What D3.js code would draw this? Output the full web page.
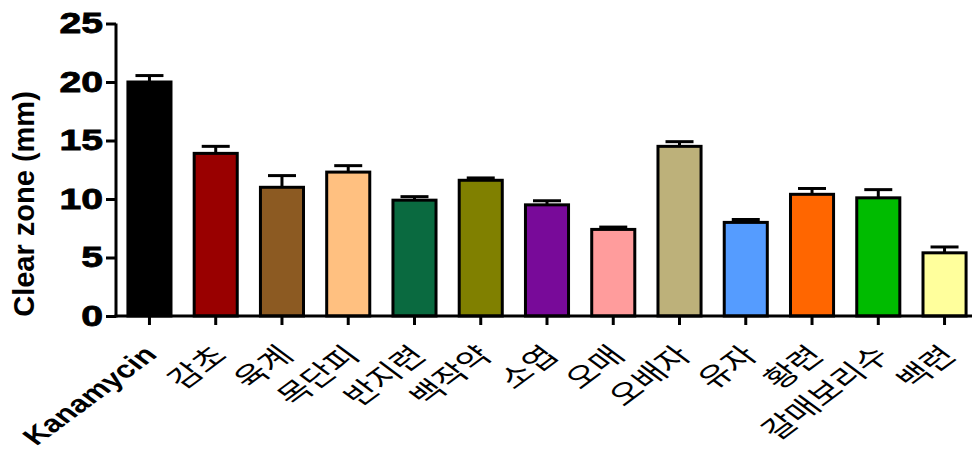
<!DOCTYPE html>
<html>
<head>
<meta charset="utf-8">
<script src="https://cdn.jsdelivr.net/npm/d3@7"></script>
<style>
  html, body { margin: 0; padding: 0; background: #fff; }
  svg { display: block; }
</style>
</head>
<body>
<svg id="chart" width="972" height="459"></svg>
<script>
// Inhibition zone diameters of herbal extracts vs. kanamycin control
const categories = ["Kanamycin", "감초", "육계", "목단피", "반지련", "백작약", "소엽", "오매", "오배자", "유자", "황련", "갈매보리수", "백련"];
const means = [20.0, 13.9, 11.0, 12.3, 9.9, 11.6, 9.5, 7.4, 14.5, 8.0, 10.4, 10.1, 5.4];
const errors = [0.55, 0.6, 1.0, 0.55, 0.3, 0.2, 0.35, 0.2, 0.4, 0.25, 0.5, 0.7, 0.5];
const colors = ["#000000", "#990000", "#8c5a22", "#ffc080", "#0a6a40", "#808000", "#780a99", "#ff9c9c", "#bdb17a", "#559cff", "#ff6600", "#00bb00", "#ffff9c"];
const yTicks = [0, 5, 10, 15, 20, 25];
const yTitle = "Clear zone (mm)";

const svg = d3.select("#chart");
const plotLeft = 116, plotRight = 978, plotTop = 23.5, plotBottom = 316;
const textStretch = 1.35; // horizontally widened lettering

const x = d3.scaleBand().domain(categories).range([plotLeft, plotRight])
  .paddingInner(0.35).paddingOuter(0.18);
const y = d3.scaleLinear().domain([0, 25]).range([plotBottom, plotTop]);

// Bars
svg.append("g").selectAll("rect").data(categories).join("rect")
  .attr("x", d => x(d))
  .attr("y", (d, i) => y(means[i]))
  .attr("width", x.bandwidth())
  .attr("height", (d, i) => y(0) - y(means[i]))
  .attr("fill", (d, i) => colors[i])
  .attr("stroke", "#000")
  .attr("stroke-width", 3);

// Upward error bars with caps
const capW = 28;
const eb = svg.append("g").attr("stroke", "#000").attr("stroke-width", 3);
categories.forEach((c, i) => {
  const cx = x(c) + x.bandwidth() / 2;
  eb.append("line").attr("x1", cx).attr("x2", cx)
    .attr("y1", y(means[i])).attr("y2", y(means[i] + errors[i]));
  eb.append("line").attr("x1", cx - capW / 2).attr("x2", cx + capW / 2)
    .attr("y1", y(means[i] + errors[i])).attr("y2", y(means[i] + errors[i]));
});

// Y axis
const yAxis = svg.append("g").attr("transform", `translate(${plotLeft},0)`)
  .call(d3.axisLeft(y).tickValues(yTicks).tickSize(10).tickPadding(3));
yAxis.select(".domain").attr("stroke-width", 3).attr("d", `M0,${plotBottom + 1.5}V${plotTop}`);
yAxis.selectAll(".tick line").attr("stroke-width", 3);
yAxis.selectAll(".tick text")
  .attr("font-family", "'Liberation Sans', Arial, sans-serif")
  .attr("font-weight", "bold").attr("font-size", 29).attr("fill", "#000")
  .attr("stroke", "#000").attr("stroke-width", 0.8)
  .attr("x", -13 / textStretch)
  .attr("transform", `scale(${textStretch},1)`);

// X axis
const xAxis = svg.append("g").attr("transform", `translate(0,${plotBottom})`)
  .call(d3.axisBottom(x).tickSize(9).tickSizeOuter(0).tickPadding(0));
xAxis.select(".domain").attr("stroke-width", 3).attr("d", `M${plotLeft - 1.5},0H972`);
xAxis.selectAll(".tick line").attr("stroke-width", 3);
xAxis.selectAll(".tick text")
  .attr("text-anchor", "end")
  .attr("font-family", (d, i) => i === 0 ? "'Liberation Sans', Arial, sans-serif" : "'Noto Sans CJK KR', sans-serif")
  .attr("font-weight", (d, i) => i === 0 ? "bold" : "normal")
  .attr("font-size", (d, i) => i === 0 ? 24 : 26).attr("fill", "#000")
  .attr("dy", null).attr("y", null)
  .attr("transform", (d, i) => i === 0
    ? `translate(9,40) scale(${textStretch},1) rotate(-45)`
    : `translate(13,41) scale(${textStretch},1) rotate(-45)`);

// Y axis title
svg.append("text")
  .attr("transform", `translate(34,204) rotate(-90)`)
  .attr("text-anchor", "middle")
  .attr("font-family", "'Liberation Sans', Arial, sans-serif")
  .attr("font-weight", "bold").attr("font-size", 29).attr("fill", "#000")
  .text(yTitle);
</script>
</body>
</html>
